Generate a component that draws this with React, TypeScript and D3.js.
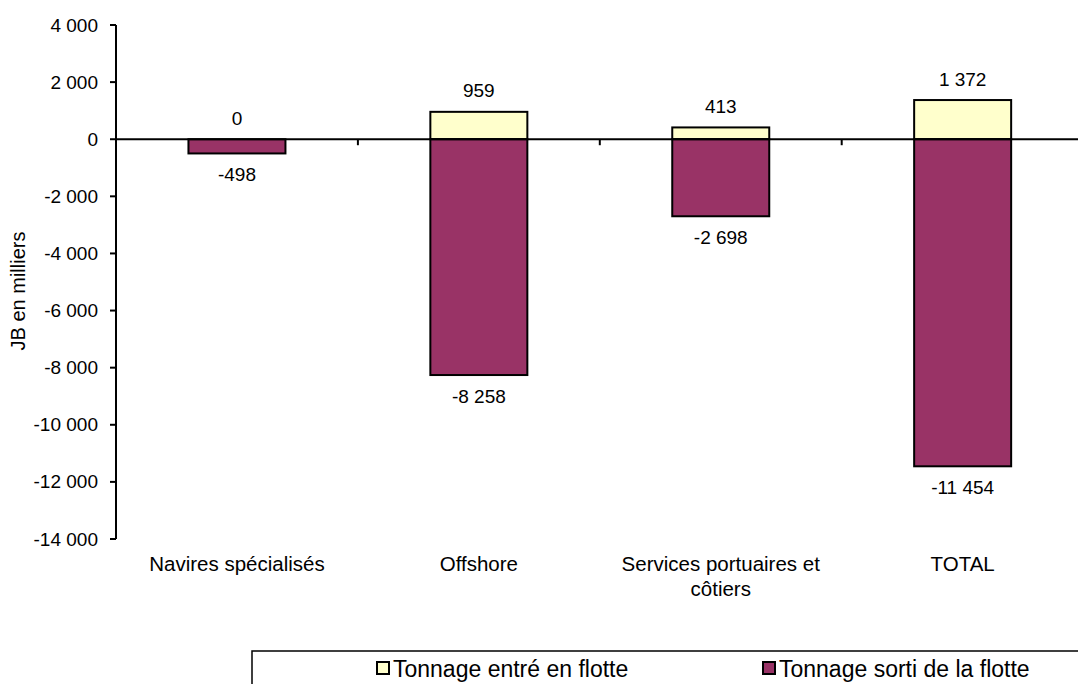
import React from "react";
import * as d3 from "d3";

const categories = ["Navires spécialisés", "Offshore", "Services portuaires et côtiers", "TOTAL"];
const categoryLines = [["Navires spécialisés"], ["Offshore"], ["Services portuaires et", "côtiers"], ["TOTAL"]];
const entered = [0, 959, 413, 1372];
const exited = [-498, -8258, -2698, -11454];
const yTicks = [4000, 2000, 0, -2000, -4000, -6000, -8000, -10000, -12000, -14000];
const seriesNames = ["Tonnage entré en flotte", "Tonnage sorti de la flotte"];
const colors = ["#FFFFCC", "#993366"];

const W = 1078;
const H = 684;
const FONT = "'Liberation Sans', Arial, sans-serif";

function fmt(v: number): string {
  const s = Math.abs(v).toString().replace(/\B(?=(\d{3})+(?!\d))/g, " ");
  return (v < 0 ? "-" : "") + s;
}

export default function App() {
  const x0 = 116;
  const bandW = 241.9;
  const x = d3.scaleBand<string>().domain(categories).range([x0, x0 + bandW * categories.length]).paddingInner(0).paddingOuter(0);
  const y = d3.scaleLinear().domain([-14000, 4000]).range([539, 25]);
  const barW = 97;
  const bw = x.bandwidth();

  return (
    <svg width={W} height={H} style={{ position: "absolute", left: 0, top: 0, background: "#fff" }} fontFamily={FONT}>
      <rect x={0} y={0} width={W} height={H} fill="#fff" />
      {/* bars */}
      {categories.map((c, i) => {
        const cx = (x(c) as number) + bw / 2;
        const yTop = y(entered[i]);
        const yBot = y(exited[i]);
        const z = y(0);
        return (
          <g key={c}>
            {entered[i] > 0 && (
              <rect x={cx - barW / 2} y={yTop} width={barW} height={z - yTop} fill={colors[0]} stroke="#000" strokeWidth={2} />
            )}
            <rect x={cx - barW / 2} y={z} width={barW} height={yBot - z} fill={colors[1]} stroke="#000" strokeWidth={2} />
            <text x={cx} y={yTop - 14.5} textAnchor="middle" fontSize={19} fill="#000">{fmt(entered[i])}</text>
            <text x={cx} y={yBot + 28} textAnchor="middle" fontSize={19} fill="#000">{fmt(exited[i])}</text>
          </g>
        );
      })}
      {/* y axis */}
      <line x1={x0} x2={x0} y1={y(4000)} y2={y(-14000)} stroke="#000" strokeWidth={2} />
      {yTicks.map((t) => (
        <g key={t}>
          <line x1={x0 - 6} x2={x0} y1={y(t)} y2={y(t)} stroke="#000" strokeWidth={2} />
          <text x={98} y={y(t) + 6.5} textAnchor="end" fontSize={19} fill="#000">{fmt(t)}</text>
        </g>
      ))}
      {/* zero line */}
      <line x1={x0} x2={x0 + bandW * categories.length} y1={y(0)} y2={y(0)} stroke="#000" strokeWidth={2} />
      {categories.map((c, i) => i > 0 ? (
        <line key={"t" + c} x1={x(c) as number} x2={x(c) as number} y1={y(0)} y2={y(0) + 6} stroke="#000" strokeWidth={2} />
      ) : null)}
      {/* category labels */}
      {categories.map((c, i) => (
        <text key={"l" + c} x={(x(c) as number) + bw / 2} y={571} textAnchor="middle" fontSize={20.5} fill="#000">
          {categoryLines[i].map((ln, j) => (
            <tspan key={j} x={(x(c) as number) + bw / 2} dy={j === 0 ? 0 : 25}>{ln}</tspan>
          ))}
        </text>
      ))}
      {/* y axis title */}
      <text transform={`translate(25,291) rotate(-90)`} textAnchor="middle" fontSize={20} fill="#000">JB en milliers</text>
      {/* legend */}
      <rect x={252} y={651} width={900} height={100} fill="#fff" stroke="#000" strokeWidth={1.5} />
      {seriesNames.map((s, i) => {
        const lx = i === 0 ? 377 : 763;
        return (
          <g key={s}>
            <rect x={lx} y={662} width={12} height={12} fill={colors[i]} stroke="#000" strokeWidth={2} />
            <text x={lx + 16} y={676.5} fontSize={23} fill="#000">{s}</text>
          </g>
        );
      })}
    </svg>
  );
}
